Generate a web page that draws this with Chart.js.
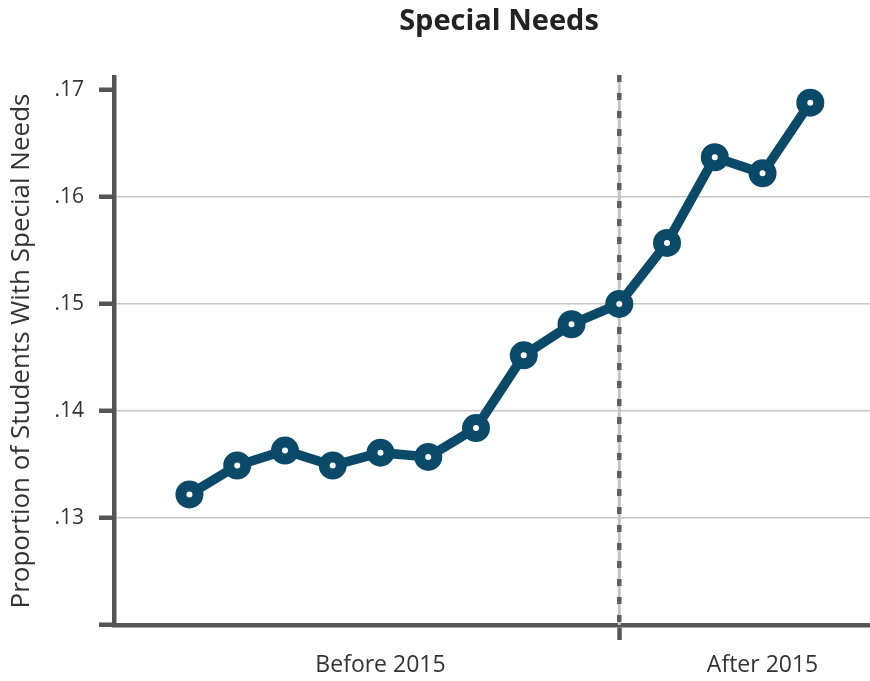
<!DOCTYPE html>
<html lang="en">
<head>
<meta charset="UTF-8">
<title>Special Needs</title>
<script src="https://cdn.jsdelivr.net/npm/chart.js"></script>
<style>
  html, body { margin: 0; padding: 0; background: #ffffff; overflow: hidden; }
  #wrap { width: 870px; height: 681px; }
  canvas { display: block; }
</style>
</head>
<body>
<div id="wrap"><canvas id="needsChart"></canvas></div>
<script>
// Year index along the x axis and the share of students with special needs
const periods = [0, 1, 2, 3, 4, 5, 6, 7, 8, 9, 10, 11, 12, 13];
const proportions = [0.1322, 0.1349, 0.1363, 0.1349, 0.1361, 0.1357, 0.1384,
                     0.1452, 0.1481, 0.1500, 0.1557, 0.1637, 0.1622, 0.1688];

// Axis ticks
const yTicks = [0.12, 0.13, 0.14, 0.15, 0.16, 0.17];
const xTickPositions = [4, 9, 12];
const xTickLabels = ['Before 2015', '', 'After 2015'];
const cutoff = 9; // 2015 policy change

const lineColor = '#0a4a68';
const axisColor = '#555555';
const textColor = '#333333';
const fontFamily = '"Open Sans", sans-serif';

// dashed vertical marker at the cutoff
const cutoffLine = {
  id: 'cutoffLine',
  beforeDatasetsDraw(chart) {
    const ctx = chart.ctx;
    const area = chart.chartArea;
    const x = chart.scales.x.getPixelForValue(cutoff);
    ctx.save();
    ctx.lineWidth = 3;
    ctx.strokeStyle = '#c4c4c4';
    ctx.beginPath();
    ctx.moveTo(x, area.top - 2);
    ctx.lineTo(x, area.bottom);
    ctx.stroke();
    ctx.lineWidth = 4.5;
    ctx.strokeStyle = '#5e5e5e';
    ctx.setLineDash([7, 11]);
    ctx.beginPath();
    ctx.moveTo(x, area.top - 2);
    ctx.lineTo(x, area.bottom);
    ctx.stroke();
    ctx.restore();
  }
};

// chart heading
const heading = {
  id: 'heading',
  afterDraw(chart) {
    const ctx = chart.ctx;
    ctx.save();
    ctx.font = 'bold 29px ' + fontFamily;
    ctx.fillStyle = '#222222';
    ctx.textAlign = 'center';
    ctx.textBaseline = 'middle';
    ctx.fillText('Special Needs', 499, 22);
    ctx.restore();
  }
};

new Chart(document.getElementById('needsChart'), {
  type: 'line',
  data: {
    datasets: [{
      data: periods.map((p, i) => ({ x: p, y: proportions[i] })),
      borderColor: lineColor,
      borderWidth: 9.5,
      pointRadius: 8.5,
      pointBorderWidth: 11,
      pointBackgroundColor: '#ffffff',
      pointBorderColor: lineColor,
      tension: 0,
      clip: false
    }]
  },
  options: {
    responsive: true,
    maintainAspectRatio: false,
    animation: false,
    layout: { autoPadding: false, padding: { top: 77, bottom: 0, left: 0, right: 0 } },
    plugins: {
      legend: { display: false },
      tooltip: { enabled: false },
      title: { display: false }
    },
    scales: {
      x: {
        type: 'linear',
        min: -1.58,
        max: 14.25,
        afterBuildTicks: axis => { axis.ticks = xTickPositions.map(v => ({ value: v })); },
        afterFit: axis => {
          axis.height = 56;
          axis.paddingLeft = 0;
          axis.paddingRight = 0;
        },
        ticks: {
          autoSkip: false,
          maxRotation: 0,
          padding: 12,
          color: textColor,
          font: { family: fontFamily, size: 23 },
          callback: (value, index) => xTickLabels[index]
        },
        grid: {
          drawOnChartArea: false,
          tickLength: 15,
          tickWidth: 4.5,
          tickColor: ctx => (ctx.index === 1 ? axisColor : 'rgba(0,0,0,0)')
        },
        border: { display: true, color: axisColor, width: 4.5 }
      },
      y: {
        min: 0.12,
        max: 0.1712,
        afterBuildTicks: axis => { axis.ticks = yTicks.map(v => ({ value: v })); },
        afterFit: axis => {
          axis.width = 114;
          axis.paddingTop = 0;
          axis.paddingBottom = 0;
        },
        ticks: {
          padding: 15,
          color: textColor,
          font: { family: fontFamily, size: 21 },
          callback: value => (value < 0.125 ? '' : value.toFixed(2).replace(/^0/, ''))
        },
        grid: {
          color: ctx => (ctx.index >= 1 && ctx.index <= 4 ? '#c6c6c6' : 'rgba(0,0,0,0)'),
          lineWidth: 1.5,
          tickLength: 15,
          tickWidth: 4.5,
          tickColor: axisColor
        },
        border: { display: true, color: axisColor, width: 4.5 },
        title: {
          display: true,
          text: 'Proportion of Students With Special Needs',
          color: textColor,
          font: { family: fontFamily, size: 26 },
          padding: { top: 6, bottom: 10 }
        }
      }
    }
  },
  plugins: [cutoffLine, heading]
});
</script>
</body>
</html>
